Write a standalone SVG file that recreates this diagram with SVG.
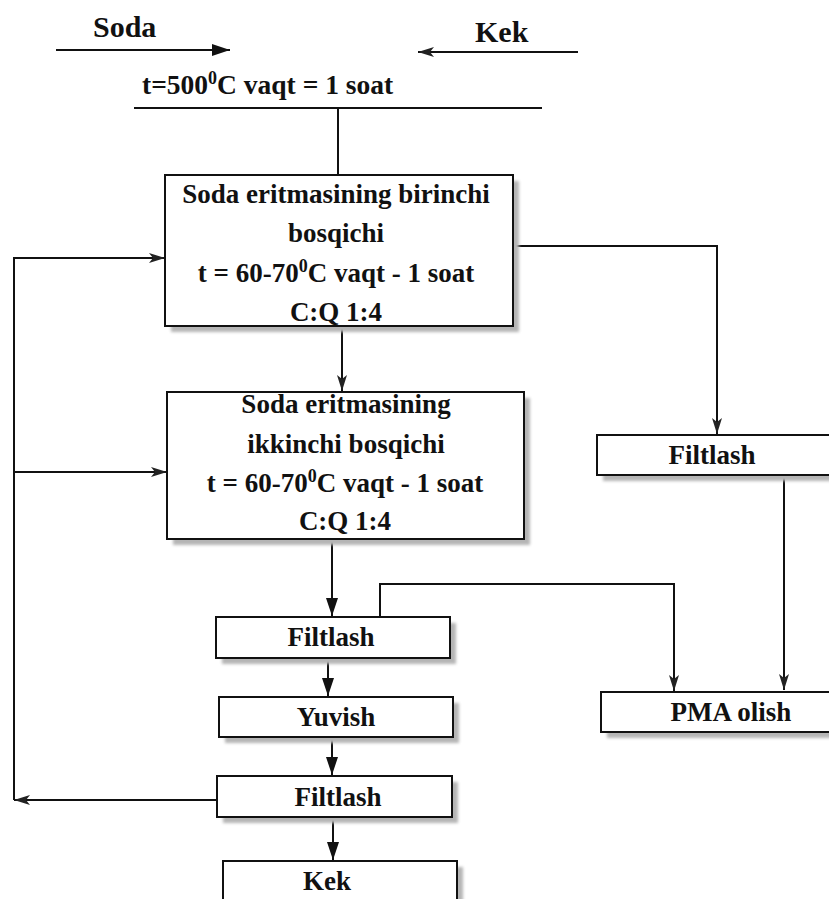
<svg xmlns="http://www.w3.org/2000/svg" width="829" height="899" viewBox="0 0 829 899">
  <style>
    text { font-family: "Liberation Serif", "Times New Roman", serif; font-weight: bold; fill: #111; }
    .t { font-size: 27px; text-anchor: middle; }
    .h { font-size: 30px; }
    .sup { font-size: 18px; }
    .box { fill: #fff; stroke: #111; stroke-width: 2; }
    .shadow { fill: #b5b5b5; filter: url(#blur); }
    .conn { fill: none; stroke: #111; stroke-width: 2; }
  </style>
  <defs>
    <filter id="blur" x="-10%" y="-10%" width="120%" height="130%">
      <feGaussianBlur stdDeviation="1.6"/>
    </filter>
    <marker id="arr" viewBox="0 0 18 12" refX="18" refY="6" markerWidth="18" markerHeight="12" markerUnits="userSpaceOnUse" orient="auto">
      <path d="M0,0 L18,6 L0,12 Z" fill="#111"/>
    </marker>
    <marker id="arrs" viewBox="0 0 16 10" refX="16" refY="5" markerWidth="16" markerHeight="10" markerUnits="userSpaceOnUse" orient="auto">
      <path d="M0,0 L16,5 L0,10 L4,5 Z" fill="#222"/>
    </marker>
  </defs>
  <rect width="829" height="899" fill="#fff"/>

  <g id="soda-input">
    <text class="h" x="93" y="37">Soda</text>
  </g>
  <g id="kek-input">
    <text class="h" x="475" y="42">Kek</text>
  </g>
  <g id="condition">
    <text x="142" y="94" style="font-size:27.5px">t=500<tspan class="sup" dy="-10">0</tspan><tspan dy="10">C vaqt = 1 soat</tspan></text>
  </g>

  <g id="connectors">
    <line class="conn" x1="56" y1="50" x2="230" y2="50" marker-end="url(#arr)"/>
    <line class="conn" x1="578" y1="52" x2="418" y2="52" marker-end="url(#arrs)"/>
    <line class="conn" x1="134" y1="108" x2="542" y2="108"/>
    <line class="conn" x1="338" y1="108" x2="338" y2="176"/>
    <line class="conn" x1="342" y1="326" x2="342" y2="391" marker-end="url(#arrs)"/>
    <polyline class="conn" points="513,246 717,246 717,434" marker-end="url(#arrs)"/>
    <line class="conn" x1="332" y1="539" x2="332" y2="616" marker-end="url(#arr)"/>
    <line class="conn" x1="328" y1="658" x2="328" y2="696" marker-end="url(#arr)"/>
    <line class="conn" x1="332" y1="737" x2="332" y2="775" marker-end="url(#arr)"/>
    <line class="conn" x1="333" y1="817" x2="333" y2="860" marker-end="url(#arr)"/>
    <polyline class="conn" points="380,617 380,584 674,584 674,691" marker-end="url(#arrs)"/>
    <line class="conn" x1="784" y1="475" x2="784" y2="690" marker-end="url(#arrs)"/>
    <line class="conn" x1="217" y1="800" x2="14" y2="800" marker-end="url(#arrs)"/>
    <polyline class="conn" points="14,800 14,258 165,258" marker-end="url(#arrs)"/>
    <line class="conn" x1="14" y1="472" x2="167" y2="472" marker-end="url(#arrs)"/>
  </g>

  <g id="stage1">
    <rect class="shadow" x="171" y="181" width="348" height="151"/>
    <rect class="box" x="165" y="175" width="348" height="151"/>
    <text class="t" x="336" y="203">Soda eritmasining birinchi</text>
    <text class="t" x="336" y="242">bosqichi</text>
    <text class="t" x="336" y="282">t = 60-70<tspan class="sup" dy="-10">0</tspan><tspan dy="10">C vaqt - 1 soat</tspan></text>
    <text class="t" x="336" y="321">C:Q 1:4</text>
  </g>

  <g id="stage2">
    <rect class="shadow" x="173" y="398" width="357" height="147"/>
    <rect class="box" x="167" y="392" width="357" height="147"/>
    <text class="t" x="346" y="413">Soda eritmasining</text>
    <text class="t" x="346" y="453">ikkinchi bosqichi</text>
    <text class="t" x="345" y="492">t = 60-70<tspan class="sup" dy="-10">0</tspan><tspan dy="10">C vaqt - 1 soat</tspan></text>
    <text class="t" x="345" y="530">C:Q 1:4</text>
  </g>

  <g id="filtlash-right">
    <rect class="shadow" x="603" y="441" width="240" height="40"/>
    <rect class="box" x="597" y="435" width="240" height="40"/>
    <text class="t" x="712" y="464">Filtlash</text>
  </g>

  <g id="pma">
    <rect class="shadow" x="607" y="698" width="240" height="40"/>
    <rect class="box" x="601" y="692" width="240" height="40"/>
    <text class="t" x="731" y="721">PMA olish</text>
  </g>

  <g id="filtlash1">
    <rect class="shadow" x="222" y="623" width="234" height="41"/>
    <rect class="box" x="216" y="617" width="234" height="41"/>
    <text class="t" x="331" y="646">Filtlash</text>
  </g>

  <g id="yuvish">
    <rect class="shadow" x="225" y="703" width="234" height="40"/>
    <rect class="box" x="219" y="697" width="234" height="40"/>
    <text class="t" x="336" y="726">Yuvish</text>
  </g>

  <g id="filtlash2">
    <rect class="shadow" x="223" y="782" width="235" height="41"/>
    <rect class="box" x="217" y="776" width="235" height="41"/>
    <text class="t" x="338" y="806">Filtlash</text>
  </g>

  <g id="kek-output">
    <rect class="shadow" x="229" y="867" width="234" height="50"/>
    <rect class="box" x="223" y="861" width="234" height="50"/>
    <text class="t" x="327" y="890">Kek</text>
  </g>
</svg>
